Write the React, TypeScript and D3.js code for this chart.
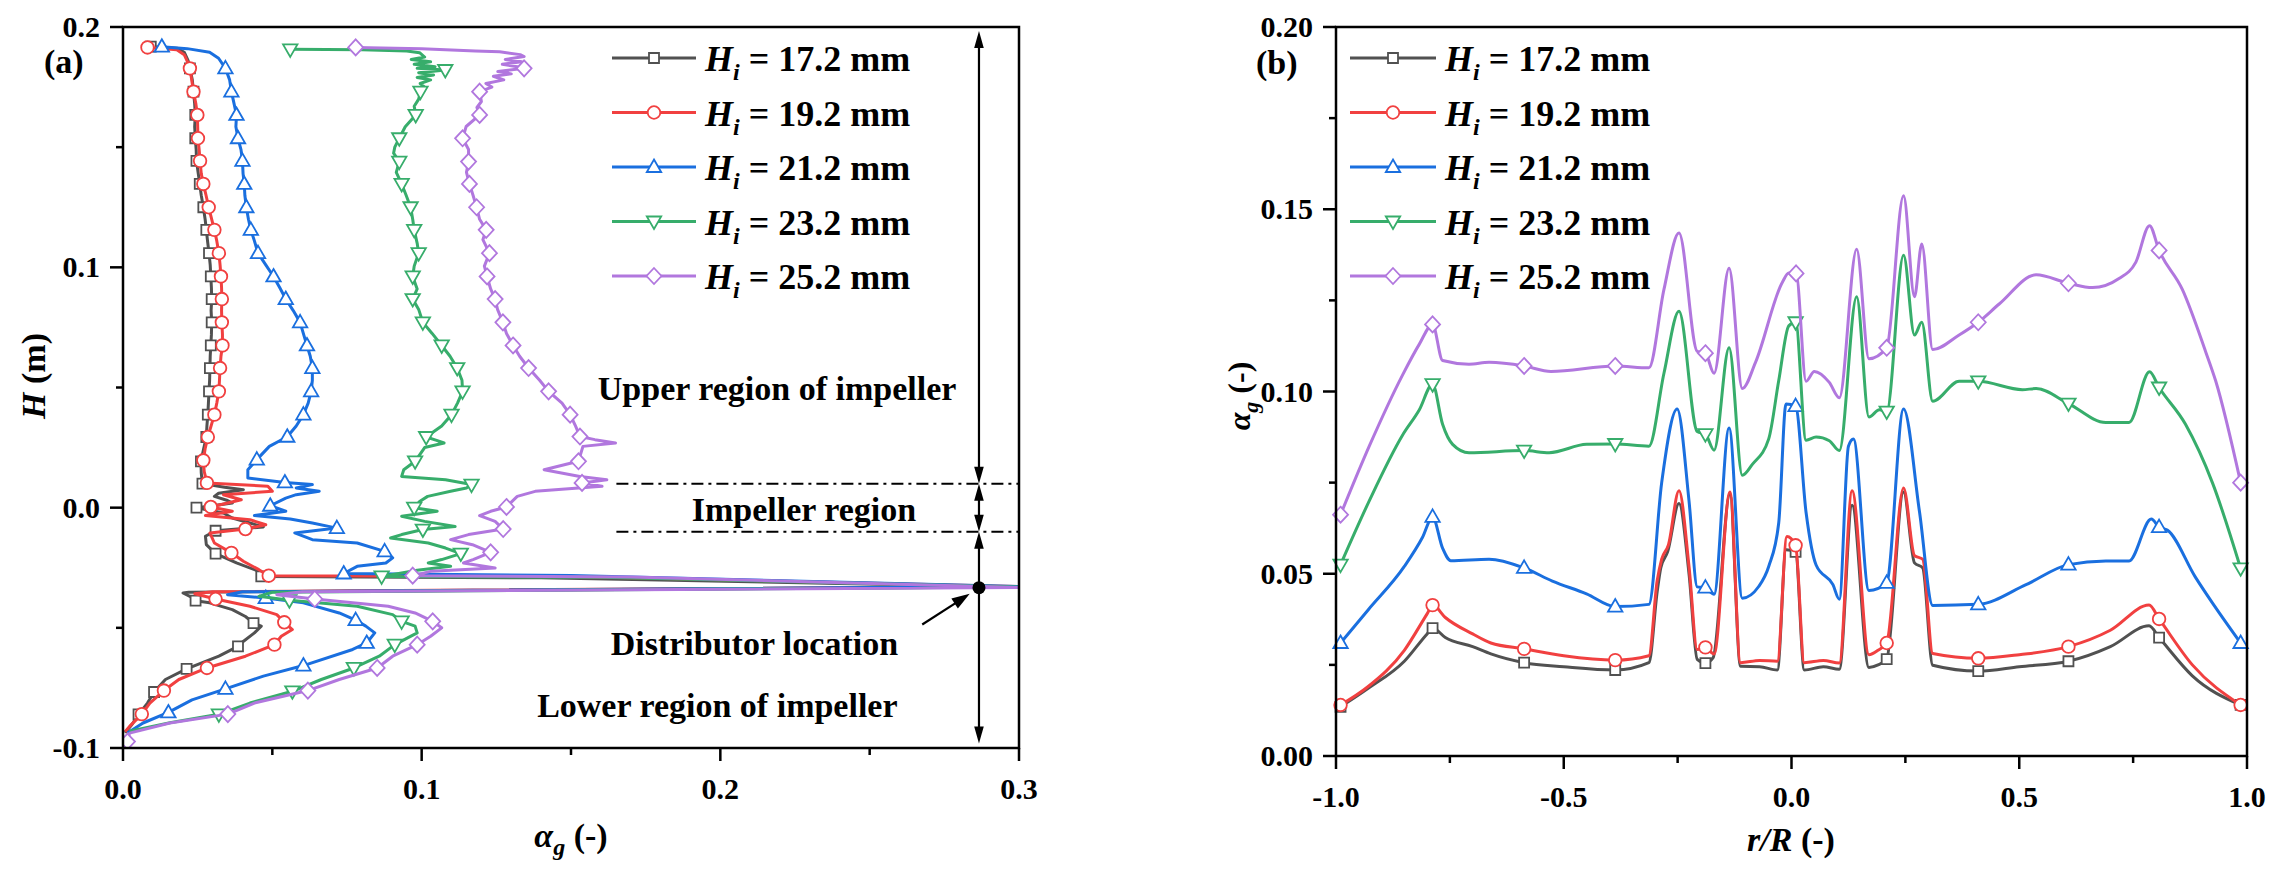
import React, { useRef, useEffect } from 'react';
import * as d3 from 'd3';

// [H (m), alpha_g (-), marker flag]
type AxialPoint = [number, number, number?];
// [r/R (-), alpha_g (-), marker flag]
type RadialPoint = [number, number, number?];

// ---------- panel (a): axial gas holdup ----------
const axial172: AxialPoint[] = [
  [0.1918, 0.0093, 1], [0.1912, 0.018], [0.1895, 0.0205], [0.186, 0.0218], [0.1828, 0.0224, 1],
  [0.178, 0.0232], [0.1731, 0.0236, 1], [0.168, 0.024], [0.1634, 0.0242, 1], [0.1585, 0.024],
  [0.1537, 0.0242, 1], [0.149, 0.0245], [0.1443, 0.0246, 1], [0.139, 0.0252], [0.1347, 0.0257, 1],
  [0.13, 0.0262], [0.125, 0.0269, 1], [0.12, 0.0275], [0.1156, 0.0279, 1], [0.111, 0.0283],
  [0.1059, 0.0288, 1], [0.101, 0.0292], [0.0962, 0.0294, 1], [0.0915, 0.0296], [0.0868, 0.0297, 1],
  [0.082, 0.0295], [0.0771, 0.0297, 1], [0.072, 0.0296], [0.0675, 0.0294, 1], [0.063, 0.0292],
  [0.0581, 0.0291, 1], [0.053, 0.029], [0.0484, 0.0288, 1], [0.0435, 0.0286], [0.0387, 0.0284, 1],
  [0.034, 0.0281], [0.0294, 0.0279, 1], [0.0245, 0.027], [0.0193, 0.0261, 1], [0.0145, 0.0262],
  [0.01, 0.0266, 1], [0.0085, 0.034], [0.0075, 0.0403], [0.006, 0.032], [0.0047, 0.0306],
  [0.003, 0.035], [0.0019, 0.0366], [0.0008, 0.03], [0.0, 0.0246, 1], [-0.0022, 0.0336],
  [-0.0043, 0.0366], [-0.0064, 0.0425], [-0.008, 0.047], [-0.0096, 0.031, 1], [-0.0119, 0.0276],
  [-0.0154, 0.0279], [-0.0191, 0.031, 1], [-0.023, 0.038], [-0.0265, 0.0455], [-0.0286, 0.0463, 1],
  [-0.0292, 0.14], [-0.033, 0.3], [-0.0352, 0.022], [-0.0355, 0.0201], [-0.0369, 0.0224],
  [-0.0387, 0.0243, 1], [-0.0396, 0.029], [-0.0424, 0.0366], [-0.0453, 0.041], [-0.048, 0.0437, 1],
  [-0.0493, 0.0463], [-0.0521, 0.044], [-0.0563, 0.0396], [-0.0577, 0.0385, 1], [-0.0618, 0.0321],
  [-0.0671, 0.0213, 1], [-0.0715, 0.0142], [-0.0767, 0.0104, 1], [-0.0813, 0.0082], [-0.086, 0.0052, 1],
  [-0.0902, 0.003], [-0.0937, 0.0007]
];

const axial192: AxialPoint[] = [
  [0.1915, 0.0082, 1], [0.1905, 0.018], [0.1885, 0.0205], [0.185, 0.0218], [0.1828, 0.0224, 1],
  [0.178, 0.023], [0.1731, 0.0236, 1], [0.168, 0.0244], [0.1634, 0.0249, 1], [0.1585, 0.025],
  [0.1537, 0.0251, 1], [0.149, 0.0255], [0.1443, 0.0258, 1], [0.139, 0.0262], [0.1347, 0.0269, 1],
  [0.13, 0.0278], [0.125, 0.0287, 1], [0.12, 0.0297], [0.1156, 0.0306, 1], [0.111, 0.0314],
  [0.1059, 0.0321, 1], [0.101, 0.0325], [0.0962, 0.0328, 1], [0.0915, 0.033], [0.0868, 0.0331, 1],
  [0.082, 0.033], [0.0771, 0.0331, 1], [0.072, 0.0333], [0.0675, 0.0333, 1], [0.063, 0.0328],
  [0.0581, 0.0325, 1], [0.053, 0.0323], [0.0484, 0.0321, 1], [0.0435, 0.0314], [0.0387, 0.0306, 1],
  [0.034, 0.0295], [0.0294, 0.0284, 1], [0.0245, 0.0275], [0.0197, 0.0269, 1], [0.015, 0.0272],
  [0.0103, 0.0281, 1], [0.0089, 0.0485], [0.0068, 0.05], [0.0054, 0.0336], [0.0033, 0.0396],
  [0.0003, 0.0294, 1], [-0.0015, 0.0366], [-0.0033, 0.0276], [-0.005, 0.0425], [-0.0071, 0.0478],
  [-0.0089, 0.041, 1], [-0.0105, 0.0291], [-0.0147, 0.0306], [-0.0188, 0.0363, 1], [-0.0223, 0.0403],
  [-0.0258, 0.0455], [-0.0283, 0.0488, 1], [-0.0286, 0.15], [-0.0328, 0.3], [-0.035, 0.03],
  [-0.0358, 0.024], [-0.038, 0.031, 1], [-0.041, 0.0425], [-0.0445, 0.0515], [-0.0477, 0.054, 1],
  [-0.0507, 0.0567], [-0.0535, 0.053], [-0.057, 0.0507, 1], [-0.0618, 0.041], [-0.0667, 0.0281, 1],
  [-0.0715, 0.0187], [-0.0761, 0.0137, 1], [-0.0813, 0.009], [-0.0859, 0.0063, 1], [-0.091, 0.0022],
  [-0.0932, 0.0007]
];

const axial212: AxialPoint[] = [
  [0.1918, 0.013, 1], [0.191, 0.0215], [0.1895, 0.029], [0.187, 0.032], [0.1828, 0.0343, 1],
  [0.178, 0.0357], [0.1731, 0.0363, 1], [0.168, 0.0372], [0.1634, 0.038, 1], [0.1585, 0.0378],
  [0.1537, 0.0385, 1], [0.149, 0.0395], [0.1443, 0.04, 1], [0.139, 0.0402], [0.1347, 0.0406, 1],
  [0.13, 0.0408], [0.125, 0.0413, 1], [0.12, 0.042], [0.1156, 0.0428, 1], [0.111, 0.044],
  [0.1059, 0.0452, 1], [0.101, 0.0478], [0.0962, 0.0504, 1], [0.0915, 0.0525], [0.0868, 0.0545, 1],
  [0.082, 0.057], [0.0771, 0.0593, 1], [0.072, 0.0605], [0.0675, 0.0616, 1], [0.063, 0.0627],
  [0.0581, 0.0634, 1], [0.053, 0.0634], [0.0484, 0.063, 1], [0.0435, 0.062], [0.0387, 0.0604, 1],
  [0.034, 0.058], [0.0295, 0.055, 1], [0.0255, 0.049], [0.02, 0.0448, 1], [0.0158, 0.0418],
  [0.0123, 0.0418], [0.0105, 0.0542, 1], [0.0096, 0.0634], [0.0082, 0.058], [0.0068, 0.0657],
  [0.0054, 0.058], [0.004, 0.0545], [0.0008, 0.0493, 1], [-0.0015, 0.0545], [-0.0033, 0.044],
  [-0.0047, 0.056], [-0.0064, 0.0634], [-0.0085, 0.0716, 1], [-0.0105, 0.0575], [-0.0133, 0.0634],
  [-0.0147, 0.0784], [-0.0182, 0.0876, 1], [-0.0209, 0.0903], [-0.023, 0.088], [-0.0244, 0.0784],
  [-0.0274, 0.0739, 1], [-0.0282, 0.15], [-0.0328, 0.3], [-0.035, 0.04], [-0.0362, 0.035],
  [-0.0376, 0.0478, 1], [-0.0396, 0.0604], [-0.0438, 0.0724], [-0.0468, 0.0779, 1], [-0.0493, 0.0813],
  [-0.0521, 0.0843], [-0.0563, 0.0816, 1], [-0.059, 0.0769], [-0.0657, 0.0604, 1], [-0.0701, 0.047],
  [-0.0754, 0.0343, 1], [-0.08, 0.0231], [-0.0852, 0.0152, 1], [-0.0896, 0.0067], [-0.0938, 0.0015]
];

const axial232: AxialPoint[] = [
  [0.1907, 0.056, 1], [0.1905, 0.08], [0.19, 0.095], [0.1893, 0.0993], [0.1875, 0.101],
  [0.1865, 0.0965], [0.1855, 0.103], [0.1845, 0.0975], [0.1835, 0.1045], [0.1828, 0.0985],
  [0.1821, 0.1079, 1], [0.181, 0.099], [0.18, 0.104], [0.179, 0.0985], [0.178, 0.103],
  [0.1765, 0.0995], [0.175, 0.101], [0.1731, 0.0996, 1], [0.17, 0.099], [0.167, 0.0975],
  [0.1634, 0.098, 1], [0.1585, 0.0945], [0.1537, 0.0925, 1], [0.15, 0.091], [0.1475, 0.0906],
  [0.144, 0.0925, 1], [0.1395, 0.0915], [0.1347, 0.0933, 1], [0.13, 0.0948], [0.125, 0.0963, 1],
  [0.12, 0.097], [0.1156, 0.0975, 1], [0.11, 0.0985], [0.1059, 0.099, 1], [0.1005, 0.0975],
  [0.0962, 0.097, 1], [0.091, 0.0985], [0.0868, 0.097, 1], [0.0825, 0.099], [0.0771, 0.1004, 1],
  [0.0725, 0.1035], [0.0675, 0.1067, 1], [0.063, 0.1095], [0.0581, 0.1119, 1], [0.053, 0.1135],
  [0.0484, 0.1137, 1], [0.0435, 0.112], [0.0387, 0.11, 1], [0.034, 0.1067], [0.0294, 0.1015, 1],
  [0.028, 0.105], [0.0269, 0.1075], [0.025, 0.101], [0.0193, 0.0978, 1], [0.0158, 0.094],
  [0.013, 0.0933], [0.0116, 0.108], [0.0096, 0.1167, 1], [0.0082, 0.115], [0.0068, 0.1097],
  [0.0047, 0.102], [0.0026, 0.0993], [0.0, 0.0975, 1], [-0.0015, 0.1052], [-0.0036, 0.0933],
  [-0.0057, 0.101], [-0.0078, 0.1112], [-0.0091, 0.1004, 1], [-0.0112, 0.0933], [-0.0126, 0.0896],
  [-0.0147, 0.1022], [-0.0168, 0.108], [-0.0191, 0.1131, 1], [-0.0216, 0.1067], [-0.023, 0.1022],
  [-0.0244, 0.1097], [-0.026, 0.0985], [-0.0286, 0.0866, 1], [-0.029, 0.16], [-0.033, 0.3],
  [-0.0352, 0.05], [-0.0369, 0.0455], [-0.0385, 0.0557, 1], [-0.041, 0.0784], [-0.0445, 0.0903],
  [-0.0473, 0.0933, 1], [-0.0493, 0.0978], [-0.0521, 0.0985], [-0.057, 0.091, 1], [-0.0618, 0.0858],
  [-0.0667, 0.0773, 1], [-0.0715, 0.0664], [-0.0764, 0.0567, 1], [-0.0813, 0.0425], [-0.086, 0.0321, 1],
  [-0.0895, 0.0157], [-0.093, 0.0022]
];

const axial252: AxialPoint[] = [
  [0.1915, 0.0779, 1], [0.191, 0.1], [0.19, 0.118], [0.1897, 0.1261], [0.1885, 0.133],
  [0.1877, 0.1343], [0.1865, 0.128], [0.1855, 0.1335], [0.1845, 0.127], [0.1835, 0.132],
  [0.1828, 0.1343, 1], [0.1815, 0.1255], [0.1805, 0.13], [0.1795, 0.124], [0.178, 0.1275],
  [0.1765, 0.1215], [0.175, 0.1235], [0.1731, 0.1194, 1], [0.169, 0.12], [0.1665, 0.1185],
  [0.1634, 0.1194, 1], [0.1586, 0.1149], [0.1537, 0.1137, 1], [0.149, 0.1157], [0.144, 0.1157, 1],
  [0.1395, 0.115], [0.1347, 0.116, 1], [0.13, 0.1172], [0.125, 0.1184, 1], [0.12, 0.1194],
  [0.1156, 0.1216, 1], [0.1115, 0.1205], [0.1059, 0.1227, 1], [0.1005, 0.121], [0.0962, 0.1219, 1],
  [0.091, 0.1231], [0.0868, 0.1246, 1], [0.0825, 0.1254], [0.0771, 0.1272, 1], [0.0725, 0.1284],
  [0.0675, 0.1306, 1], [0.063, 0.1328], [0.0581, 0.1358, 1], [0.053, 0.1395], [0.0484, 0.1425, 1],
  [0.0435, 0.147], [0.0387, 0.1497, 1], [0.034, 0.1515], [0.0296, 0.153, 1], [0.0283, 0.158],
  [0.0269, 0.1649], [0.0255, 0.154], [0.0193, 0.1525, 1], [0.0158, 0.141], [0.013, 0.153],
  [0.0116, 0.162], [0.0103, 0.1537, 1], [0.0089, 0.1604], [0.0068, 0.138], [0.0047, 0.132],
  [0.0003, 0.1284, 1], [-0.0015, 0.1231], [-0.0033, 0.1194], [-0.0057, 0.1246], [-0.0089, 0.1273, 1],
  [-0.0112, 0.1157], [-0.0133, 0.1097], [-0.0154, 0.117], [-0.0186, 0.1231, 1], [-0.0216, 0.1172],
  [-0.023, 0.114], [-0.0251, 0.1246], [-0.0265, 0.103], [-0.0283, 0.097, 1], [-0.0288, 0.17],
  [-0.0332, 0.3], [-0.035, 0.06], [-0.0362, 0.0515], [-0.038, 0.0642, 1], [-0.041, 0.0888],
  [-0.0438, 0.0978], [-0.0473, 0.1037, 1], [-0.05, 0.1067], [-0.0535, 0.103], [-0.057, 0.0985, 1],
  [-0.0618, 0.0903], [-0.0667, 0.0851, 1], [-0.0715, 0.0724], [-0.0761, 0.0619, 1], [-0.0813, 0.044],
  [-0.0859, 0.0351, 1], [-0.0896, 0.0157], [-0.0938, 0.0022], [-0.0973, 0.0015, 1]
];

// ---------- panel (b): radial gas holdup ----------
const radial172: RadialPoint[] = [
  [-0.99, 0.0135, 1], [-0.93, 0.0185], [-0.85, 0.026], [-0.8, 0.0335], [-0.788, 0.0351, 1],
  [-0.76, 0.0325], [-0.7, 0.03], [-0.66, 0.028], [-0.587, 0.0256, 1], [-0.5, 0.0245],
  [-0.387, 0.0236, 1], [-0.313, 0.0256], [-0.295, 0.045], [-0.287, 0.0516], [-0.272, 0.056],
  [-0.247, 0.0693], [-0.225, 0.05], [-0.207, 0.0265], [-0.189, 0.0255, 1], [-0.172, 0.027],
  [-0.135, 0.0718], [-0.112, 0.0246], [-0.07, 0.0245], [-0.031, 0.0236], [-0.012, 0.0566],
  [0.009, 0.056, 1], [0.028, 0.0236], [0.07, 0.0245], [0.105, 0.0238], [0.133, 0.0688],
  [0.17, 0.0243], [0.19, 0.025], [0.209, 0.0266, 1], [0.246, 0.0724], [0.27, 0.053],
  [0.288, 0.0516], [0.31, 0.0249], [0.41, 0.0233, 1], [0.5, 0.0245], [0.608, 0.026, 1],
  [0.7, 0.03], [0.785, 0.0357], [0.807, 0.0325, 1], [0.88, 0.022], [0.986, 0.014, 1]
];

const radial192: RadialPoint[] = [
  [-0.99, 0.014, 1], [-0.93, 0.019], [-0.85, 0.029], [-0.8, 0.039], [-0.788, 0.0414, 1],
  [-0.76, 0.038], [-0.7, 0.0335], [-0.66, 0.031], [-0.587, 0.0294, 1], [-0.5, 0.0275],
  [-0.387, 0.0263, 1], [-0.313, 0.0275], [-0.295, 0.048], [-0.285, 0.054], [-0.27, 0.058],
  [-0.247, 0.0728], [-0.225, 0.052], [-0.207, 0.0292], [-0.189, 0.0298, 1], [-0.17, 0.028],
  [-0.135, 0.0724], [-0.112, 0.0256], [-0.07, 0.0262], [-0.031, 0.026], [-0.01, 0.0602],
  [0.009, 0.0578, 1], [0.028, 0.0256], [0.07, 0.0262], [0.105, 0.0255], [0.133, 0.0728],
  [0.17, 0.0278], [0.19, 0.029], [0.209, 0.031, 1], [0.246, 0.0735], [0.27, 0.055],
  [0.288, 0.054], [0.31, 0.0281], [0.41, 0.0268, 1], [0.5, 0.0278], [0.608, 0.03, 1],
  [0.7, 0.0345], [0.785, 0.0414], [0.807, 0.0376, 1], [0.88, 0.025], [0.986, 0.014, 1]
];

const radial212: RadialPoint[] = [
  [-0.99, 0.031, 1], [-0.93, 0.04], [-0.85, 0.052], [-0.81, 0.06], [-0.788, 0.0656, 1],
  [-0.766, 0.057], [-0.748, 0.0536], [-0.664, 0.054], [-0.587, 0.0516, 1], [-0.525, 0.048],
  [-0.45, 0.0445], [-0.387, 0.041, 1], [-0.313, 0.0416], [-0.285, 0.075], [-0.251, 0.0952],
  [-0.225, 0.07], [-0.207, 0.0464], [-0.189, 0.0462, 1], [-0.17, 0.0444], [-0.137, 0.09],
  [-0.108, 0.0433], [-0.072, 0.0465], [-0.05, 0.052], [-0.028, 0.064], [-0.012, 0.0966],
  [0.009, 0.096, 1], [0.032, 0.0668], [0.054, 0.0524], [0.091, 0.047], [0.105, 0.043],
  [0.125, 0.085], [0.136, 0.087], [0.17, 0.0454], [0.209, 0.0475, 1], [0.246, 0.0952],
  [0.281, 0.067], [0.31, 0.0413], [0.41, 0.0416, 1], [0.515, 0.047], [0.608, 0.0525, 1],
  [0.69, 0.0535], [0.741, 0.0535], [0.79, 0.065], [0.807, 0.0628, 1], [0.825, 0.062],
  [0.887, 0.049], [0.924, 0.042], [0.986, 0.031, 1]
];

const radial232: RadialPoint[] = [
  [-0.99, 0.0525, 1], [-0.927, 0.07], [-0.854, 0.088], [-0.817, 0.095], [-0.788, 0.102, 1],
  [-0.766, 0.091], [-0.744, 0.0855], [-0.708, 0.0832], [-0.587, 0.0838, 1], [-0.532, 0.0832],
  [-0.45, 0.0855], [-0.387, 0.0856, 1], [-0.313, 0.085], [-0.28, 0.105], [-0.247, 0.122],
  [-0.207, 0.089], [-0.189, 0.0883, 1], [-0.17, 0.0839], [-0.137, 0.112], [-0.108, 0.077],
  [-0.086, 0.08], [-0.05, 0.087], [-0.028, 0.103], [-0.006, 0.118], [0.009, 0.119, 1],
  [0.032, 0.0866], [0.054, 0.0875], [0.083, 0.0865], [0.105, 0.0838], [0.143, 0.126],
  [0.17, 0.093], [0.193, 0.095], [0.209, 0.0945, 1], [0.246, 0.1374], [0.27, 0.1155],
  [0.286, 0.119], [0.31, 0.0973], [0.368, 0.1028], [0.41, 0.1028, 1], [0.507, 0.1005],
  [0.537, 0.1008], [0.608, 0.0967, 1], [0.69, 0.0915], [0.741, 0.0915], [0.786, 0.1054],
  [0.807, 0.1011, 1], [0.865, 0.091], [0.924, 0.075], [0.986, 0.0515, 1]
];

const radial252: RadialPoint[] = [
  [-0.99, 0.0662, 1], [-0.927, 0.085], [-0.854, 0.1045], [-0.817, 0.113], [-0.788, 0.1184, 1],
  [-0.766, 0.1085], [-0.708, 0.1075], [-0.664, 0.108], [-0.587, 0.107, 1], [-0.528, 0.1055],
  [-0.387, 0.107, 1], [-0.313, 0.1065], [-0.28, 0.128], [-0.247, 0.1435], [-0.207, 0.111],
  [-0.189, 0.1105, 1], [-0.17, 0.105], [-0.137, 0.1338], [-0.108, 0.1008], [-0.079, 0.108],
  [-0.02, 0.13], [-0.006, 0.1325], [0.01, 0.1324, 1], [0.032, 0.1028], [0.05, 0.1055],
  [0.083, 0.1025], [0.105, 0.0983], [0.143, 0.139], [0.17, 0.109], [0.209, 0.112, 1],
  [0.246, 0.1537], [0.27, 0.126], [0.286, 0.1405], [0.31, 0.1115], [0.368, 0.1155],
  [0.41, 0.119, 1], [0.456, 0.124], [0.537, 0.132], [0.608, 0.1297, 1], [0.661, 0.1285],
  [0.719, 0.131], [0.756, 0.1355], [0.786, 0.1455], [0.807, 0.1387, 1], [0.858, 0.128],
  [0.909, 0.111], [0.931, 0.103], [0.986, 0.075, 1]
];

const axialSeries = [axial172, axial192, axial212, axial232, axial252];
const radialSeries = [radial172, radial192, radial212, radial232, radial252];
const seriesLabels = ['17.2', '19.2', '21.2', '23.2', '25.2'];
const seriesColors = ['#515151', '#F14040', '#1A6FDF', '#37AD6B', '#B177DE'];
const markerShapes = ['square', 'circle', 'triangleUp', 'triangleDown', 'diamond'];

const axialTicksX = [0, 0.1, 0.2, 0.3];
const axialMinorX = [0.05, 0.15, 0.25];
const axialTicksY = [-0.1, 0.0, 0.1, 0.2];
const axialMinorY = [-0.05, 0.05, 0.15];
const radialTicksX = [-1, -0.5, 0, 0.5, 1];
const radialMinorX = [-0.75, -0.25, 0.25, 0.75];
const radialTicksY = [0, 0.05, 0.1, 0.15, 0.2];
const radialMinorY = [0.025, 0.075, 0.125, 0.175];

// impeller region limits and distributor height (m)
const impellerTop = 0.01;
const impellerBottom = -0.01;
const distributorH = -0.0333;

const FONT = "'Liberation Serif', 'Times New Roman', serif";

type Sel = d3.Selection<any, unknown, null, undefined>;

function drawMarker(g: Sel, shape: string, x: number, y: number, color: string) {
  const common = (s: Sel) => s.attr('fill', '#fff').attr('stroke', color).attr('stroke-width', 1.8);
  if (shape === 'circle') {
    common(g.append('circle').attr('cx', x).attr('cy', y).attr('r', 6.3));
    return;
  }
  let d = '';
  if (shape === 'square') d = 'M-5,-5H5V5H-5Z';
  if (shape === 'triangleUp') d = 'M0,-7.5L7.2,5L-7.2,5Z';
  if (shape === 'triangleDown') d = 'M0,7.5L7.2,-5L-7.2,-5Z';
  if (shape === 'diamond') d = 'M0,-8L7.5,0L0,8L-7.5,0Z';
  common(g.append('path').attr('d', d).attr('transform', `translate(${x},${y})`));
}

function drawFrame(
  g: Sel,
  x: d3.ScaleLinear<number, number>,
  y: d3.ScaleLinear<number, number>,
  ticksX: number[], minorX: number[], ticksY: number[], minorY: number[],
  fmtX: (v: number) => string, fmtY: (v: number) => string
) {
  const [x0, x1] = x.range();
  const [y1, y0] = y.range();
  g.append('rect')
    .attr('x', x0).attr('y', y0)
    .attr('width', x1 - x0).attr('height', y1 - y0)
    .attr('fill', 'none').attr('stroke', '#000').attr('stroke-width', 2.5);

  const ticks = g.append('g').attr('stroke', '#000').attr('stroke-width', 2.5);
  ticksX.forEach(v => ticks.append('line').attr('x1', x(v)).attr('x2', x(v)).attr('y1', y1).attr('y2', y1 + 13));
  minorX.forEach(v => ticks.append('line').attr('x1', x(v)).attr('x2', x(v)).attr('y1', y1).attr('y2', y1 + 7));
  ticksY.forEach(v => ticks.append('line').attr('y1', y(v)).attr('y2', y(v)).attr('x1', x0).attr('x2', x0 - 13));
  minorY.forEach(v => ticks.append('line').attr('y1', y(v)).attr('y2', y(v)).attr('x1', x0).attr('x2', x0 - 7));

  const labels = g.append('g')
    .attr('font-family', FONT).attr('font-weight', 'bold').attr('font-size', 30).attr('fill', '#000');
  ticksX.forEach(v => labels.append('text')
    .attr('x', x(v)).attr('y', y1 + 51).attr('text-anchor', 'middle').text(fmtX(v)));
  ticksY.forEach(v => labels.append('text')
    .attr('x', x0 - 23).attr('y', y(v) + 10).attr('text-anchor', 'end').text(fmtY(v)));
}

function drawLegend(g: Sel, lineX0: number, lineX1: number, textX: number) {
  const rows = [58, 112.5, 167, 221.5, 276];
  seriesLabels.forEach((label, i) => {
    const cy = rows[i];
    g.append('line')
      .attr('x1', lineX0).attr('x2', lineX1).attr('y1', cy).attr('y2', cy)
      .attr('stroke', seriesColors[i]).attr('stroke-width', 3);
    drawMarker(g, markerShapes[i], (lineX0 + lineX1) / 2, cy, seriesColors[i]);
    const t = g.append('text')
      .attr('x', textX).attr('y', cy + 13)
      .attr('font-family', FONT).attr('font-weight', 'bold').attr('font-size', 36);
    t.append('tspan').attr('font-style', 'italic').text('H');
    t.append('tspan').attr('font-style', 'italic').attr('font-size', 24).attr('dy', 9).text('i');
    t.append('tspan').attr('dy', -9).text(` = ${label} mm`);
  });
}

function arrowHead(g: Sel, tx: number, ty: number, fx: number, fy: number, len: number, half: number) {
  const dx = tx - fx, dy = ty - fy;
  const n = Math.hypot(dx, dy);
  const ux = dx / n, uy = dy / n;
  const bx = tx - ux * len, by = ty - uy * len;
  const pts = [[tx, ty], [bx - uy * half, by + ux * half], [bx + uy * half, by - ux * half]];
  g.append('path').attr('d', `M${pts.map(p => p.join(',')).join('L')}Z`).attr('fill', '#000');
}

function doubleArrow(g: Sel, x: number, yTop: number, yBot: number) {
  g.append('line').attr('x1', x).attr('x2', x).attr('y1', yTop + 8).attr('y2', yBot - 8)
    .attr('stroke', '#000').attr('stroke-width', 2.2);
  arrowHead(g, x, yTop, x, yBot, 17, 4.8);
  arrowHead(g, x, yBot, x, yTop, 17, 4.8);
}

export default function App() {
  const svgRef = useRef<SVGSVGElement>(null);

  useEffect(() => {
    document.body.style.margin = '0';
    const svg = d3.select(svgRef.current);
    svg.selectAll('*').remove();

    // ---------- panel (a) ----------
    const ax = d3.scaleLinear().domain([0, 0.3]).range([123, 1019]);
    const ay = d3.scaleLinear().domain([-0.1, 0.2]).range([748, 27]);

    svg.append('defs').append('clipPath').attr('id', 'clip-a')
      .append('rect').attr('x', 123).attr('y', 27).attr('width', 896).attr('height', 721);

    const pa = svg.append('g');
    const plotA = pa.append('g').attr('clip-path', 'url(#clip-a)');
    const axialLine = d3.line<AxialPoint>().x(d => ax(d[1])).y(d => ay(d[0]));

    // annotations (behind the curves)
    const ann = pa.append('g');
    [impellerTop, impellerBottom].forEach(h => ann.append('line')
      .attr('x1', ax(0.1652)).attr('x2', ax(0.3)).attr('y1', ay(h)).attr('y2', ay(h))
      .attr('stroke', '#000').attr('stroke-width', 2).attr('stroke-dasharray', '12 5 3 5'));

    axialSeries.forEach((series, i) => {
      plotA.append('path')
        .datum(series)
        .attr('d', axialLine)
        .attr('fill', 'none')
        .attr('stroke', seriesColors[i])
        .attr('stroke-width', 3)
        .attr('stroke-linejoin', 'round');
      series.filter(d => d[2]).forEach(d =>
        drawMarker(plotA, markerShapes[i], ax(d[1]), ay(d[0]), seriesColors[i]));
    });

    drawFrame(pa, ax, ay, axialTicksX, axialMinorX, axialTicksY, axialMinorY,
      v => v.toFixed(1), v => v.toFixed(1));

    const arrowX = ax(0.2866);
    doubleArrow(pa, arrowX, ay(0.1983), ay(impellerTop));
    doubleArrow(pa, arrowX, ay(impellerTop), ay(impellerBottom));
    doubleArrow(pa, arrowX, ay(impellerBottom), ay(-0.0981));
    pa.append('circle').attr('cx', arrowX).attr('cy', ay(distributorH)).attr('r', 6.5).attr('fill', '#000');
    pa.append('line')
      .attr('x1', ax(0.2676)).attr('y1', ay(-0.0486)).attr('x2', ax(0.2790)).attr('y2', ay(-0.0395))
      .attr('stroke', '#000').attr('stroke-width', 2.2);
    arrowHead(pa, ax(0.2835), ay(-0.0358), ax(0.2676), ay(-0.0486), 18, 6);

    const annText = pa.append('g')
      .attr('font-family', FONT).attr('font-weight', 'bold').attr('font-size', 34)
      .attr('text-anchor', 'middle');
    annText.append('text').attr('x', ax(0.219)).attr('y', ay(0.0449)).text('Upper region of impeller');
    annText.append('text').attr('x', ax(0.228)).attr('y', ay(-0.0054)).text('Impeller region');
    annText.append('text').attr('x', ax(0.2114)).attr('y', ay(-0.0615)).text('Distributor location');
    annText.append('text').attr('x', ax(0.199)).attr('y', ay(-0.0869)).text('Lower region of impeller');

    drawLegend(pa, 612, 696, 705);

    pa.append('text').attr('x', 44).attr('y', 73)
      .attr('font-family', FONT).attr('font-weight', 'bold').attr('font-size', 34).text('(a)');

    const titleYA = pa.append('text')
      .attr('transform', 'translate(45,376) rotate(-90)')
      .attr('text-anchor', 'middle')
      .attr('font-family', FONT).attr('font-weight', 'bold').attr('font-size', 34);
    titleYA.append('tspan').attr('font-style', 'italic').text('H');
    titleYA.append('tspan').text(' (m)');

    const titleXA = pa.append('text')
      .attr('x', 571).attr('y', 847).attr('text-anchor', 'middle')
      .attr('font-family', FONT).attr('font-weight', 'bold').attr('font-size', 34);
    titleXA.append('tspan').attr('font-style', 'italic').text('α');
    titleXA.append('tspan').attr('font-style', 'italic').attr('font-size', 24).attr('dy', 8).text('g');
    titleXA.append('tspan').attr('dy', -8).text(' (-)');

    // ---------- panel (b) ----------
    const bx = d3.scaleLinear().domain([-1, 1]).range([1336, 2247]);
    const by = d3.scaleLinear().domain([0, 0.2]).range([756, 27]);
    const pb = svg.append('g');
    const radialLine = d3.line<RadialPoint>()
      .x(d => bx(d[0])).y(d => by(d[1]))
      .curve(d3.curveMonotoneX);

    radialSeries.forEach((series, i) => {
      pb.append('path')
        .datum(series)
        .attr('d', radialLine)
        .attr('fill', 'none')
        .attr('stroke', seriesColors[i])
        .attr('stroke-width', 3)
        .attr('stroke-linejoin', 'round');
      series.filter(d => d[2]).forEach(d =>
        drawMarker(pb, markerShapes[i], bx(d[0]), by(d[1]), seriesColors[i]));
    });

    drawFrame(pb, bx, by, radialTicksX, radialMinorX, radialTicksY, radialMinorY,
      v => v.toFixed(1), v => v.toFixed(2));

    drawLegend(pb, 1350, 1436, 1445);

    pb.append('text').attr('x', 1256).attr('y', 74)
      .attr('font-family', FONT).attr('font-weight', 'bold').attr('font-size', 34).text('(b)');

    const titleYB = pb.append('text')
      .attr('transform', 'translate(1250,396) rotate(-90)')
      .attr('text-anchor', 'middle')
      .attr('font-family', FONT).attr('font-weight', 'bold').attr('font-size', 32);
    titleYB.append('tspan').attr('font-style', 'italic').text('α');
    titleYB.append('tspan').attr('font-style', 'italic').attr('font-size', 22).attr('dy', 8).text('g');
    titleYB.append('tspan').attr('dy', -8).text(' (-)');

    const titleXB = pb.append('text')
      .attr('x', 1791).attr('y', 851).attr('text-anchor', 'middle')
      .attr('font-family', FONT).attr('font-weight', 'bold').attr('font-size', 34);
    titleXB.append('tspan').attr('font-style', 'italic').text('r/R');
    titleXB.append('tspan').text(' (-)');
  }, []);

  return (
    <div>
      <svg ref={svgRef} width={2283} height={874} style={{ display: 'block', background: '#fff' }} />
    </div>
  );
}
